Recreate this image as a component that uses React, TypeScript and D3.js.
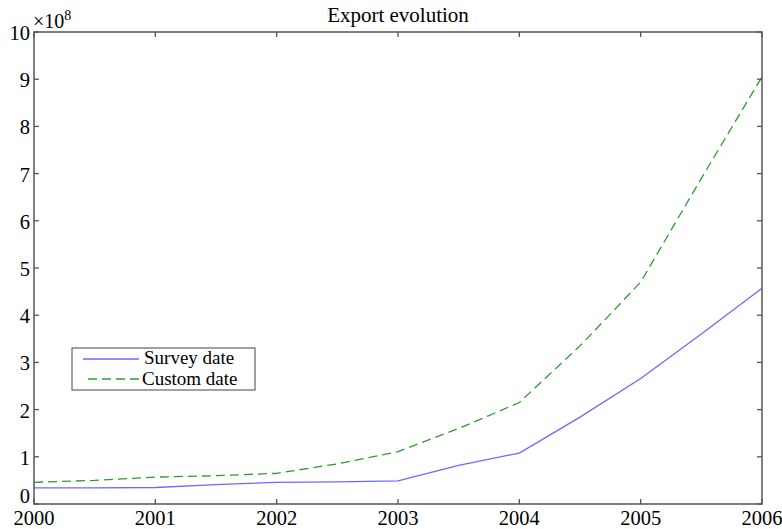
import React from "react";
import * as d3 from "d3";

const xYears = [2000, 2000.5, 2001, 2001.5, 2002, 2002.5, 2003, 2003.5, 2004, 2004.5, 2005, 2005.5, 2006];
const surveyValues = [0.34, 0.34, 0.35, 0.41, 0.46, 0.47, 0.49, 0.82, 1.08, 1.84, 2.66, 3.6, 4.57];
const customValues = [0.46, 0.5, 0.57, 0.6, 0.65, 0.85, 1.11, 1.6, 2.15, 3.35, 4.7, 6.9, 9.05];
const xTicks = [2000, 2001, 2002, 2003, 2004, 2005, 2006];
const yTicks = [0, 1, 2, 3, 4, 5, 6, 7, 8, 9, 10];
const seriesNames = ["Survey date", "Custom date"];

const W = 782, H = 529;
const L = 34, R = 762, T = 32, B = 504;
const font = "'Liberation Serif', 'Times New Roman', serif";

export default function App() {
  const x = d3.scaleLinear().domain([2000, 2006]).range([L, R]);
  const y = d3.scaleLinear().domain([0, 10]).range([B, T]);
  const line = d3.line<number>().x((_, i) => x(xYears[i])).y((d) => y(d));
  const axisColor = "#555";
  const tl = 5;
  return (
    <svg width={W} height={H} style={{ position: "absolute", left: 0, top: 0, background: "#fff" }}>
      <rect x={0} y={0} width={W} height={H} fill="#fff" />
      <text x={(L + R) / 2} y={22} textAnchor="middle" fontFamily={font} fontSize={21}>Export evolution</text>
      <path d={line(surveyValues) || ""} fill="none" stroke="#6a6aff" strokeWidth={1.3} />
      <path d={line(customValues) || ""} fill="none" stroke="#2f9a2f" strokeWidth={1.3} strokeDasharray="9,5" />
      <rect x={L} y={T} width={R - L} height={B - T} fill="none" stroke={axisColor} strokeWidth={1.5} />
      {xTicks.map((t) => (
        <g key={"x" + t}>
          <line x1={x(t)} x2={x(t)} y1={B} y2={B - tl} stroke={axisColor} strokeWidth={1.3} />
          <line x1={x(t)} x2={x(t)} y1={T} y2={T + tl} stroke={axisColor} strokeWidth={1.3} />
          <text x={x(t)} y={B + 21} textAnchor="middle" fontFamily={font} fontSize={20.5}>{t}</text>
        </g>
      ))}
      {yTicks.map((t) => (
        <g key={"y" + t}>
          <line x1={L} x2={L + tl} y1={y(t)} y2={y(t)} stroke={axisColor} strokeWidth={1.3} />
          <line x1={R} x2={R - tl} y1={y(t)} y2={y(t)} stroke={axisColor} strokeWidth={1.3} />
          <text x={L - 4} y={t === 0 ? y(t) - 1 : y(t) + 8} textAnchor="end" fontFamily={font} fontSize={20.5}>{t}</text>
        </g>
      ))}
      <text x={33} y={28} fontFamily={font} fontSize={20}>
        ×10<tspan dy={-8} fontSize={14}>8</tspan>
      </text>
      <rect x={72} y={348} width={183} height={42} fill="#fff" stroke="#444" strokeWidth={1} />
      <line x1={83} x2={139} y1={359} y2={359} stroke="#6a6aff" strokeWidth={1.3} />
      <line x1={88} x2={139} y1={379} y2={379} stroke="#2f9a2f" strokeWidth={1.3} strokeDasharray="9,5" />
      <text x={144} y={364} fontFamily={font} fontSize={19}>{seriesNames[0]}</text>
      <text x={142} y={385} fontFamily={font} fontSize={19}>{seriesNames[1]}</text>
    </svg>
  );
}
